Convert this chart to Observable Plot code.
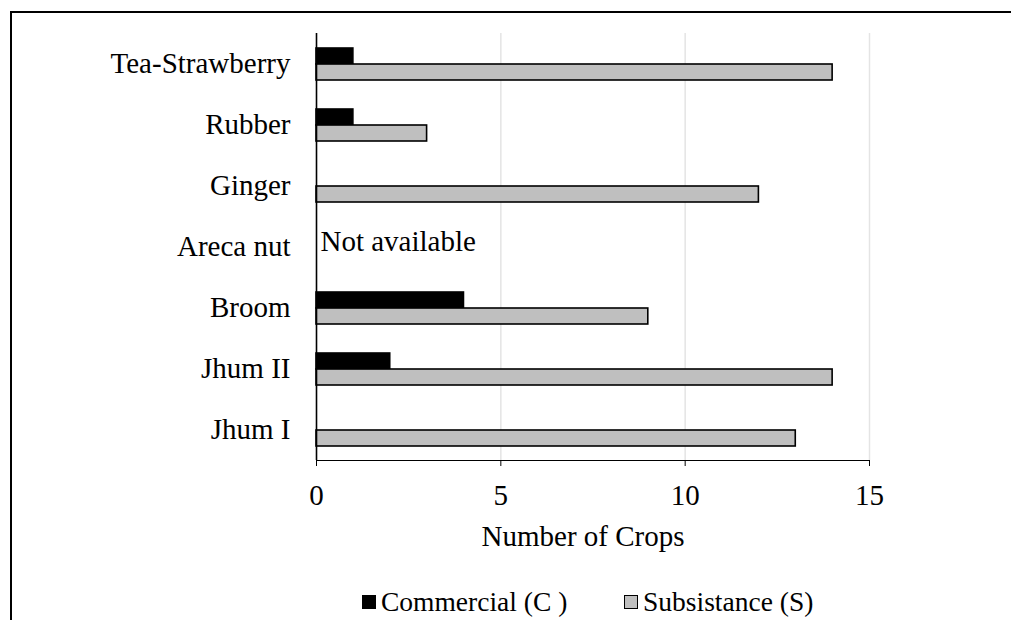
<!DOCTYPE html>
<html>
<head>
<meta charset="utf-8">
<script src="https://cdn.jsdelivr.net/npm/d3@7"></script>
<script src="https://cdn.jsdelivr.net/npm/@observablehq/plot@0.6"></script>
<style>
  html, body { margin: 0; padding: 0; background: #fff; }
  body { width: 1011px; height: 620px; position: relative; overflow: hidden; font-family: "Liberation Serif", "Times New Roman", serif; }
  #frame { position: absolute; left: 10px; top: 11px; width: 1100px; height: 700px; border-left: 2px solid #000; border-top: 2px solid #000; }
  #chart { position: absolute; left: 0; top: 0; }
  #xlabel { position: absolute; left: 583px; top: 522px; transform: translateX(-50%); font-size: 29px; line-height: 29px; white-space: nowrap; color: #000; }
  #legend { position: absolute; top: 588px; left: 0; width: 1011px; font-size: 27.5px; line-height: 27.5px; color: #000; }
  .item { position: absolute; display: flex; align-items: center; white-space: nowrap; }
  .sw { width: 14px; height: 14px; box-sizing: border-box; border: 1px solid #000; margin-right: 5px; }
</style>
</head>
<body>
<div id="frame"></div>
<div id="chart"></div>
<div id="xlabel"></div>
<div id="legend"></div>
<script>
const categories = ["Tea-Strawberry", "Rubber", "Ginger", "Areca nut", "Broom", "Jhum II", "Jhum I"];
const seriesNames = ["Commercial (C )", "Subsistance (S)"];
const commercial = [1, 1, 0, null, 4, 2, 0];
const subsistance = [14, 3, 12, null, 9, 14, 13];
const seriesColors = ["#000000", "#bfbfbf"];
const xTicks = [0, 5, 10, 15];
const gridValues = [5, 10, 15];
const xTitle = "Number of Crops";
const notes = [{category: "Areca nut", text: "Not available"}];

const rows = [];
categories.forEach((c, i) => {
  rows.push({category: c, series: seriesNames[0], value: commercial[i]});
  rows.push({category: c, series: seriesNames[1], value: subsistance[i]});
});
const bars = rows.filter(d => d.value != null && d.value > 0);

const chart = Plot.plot({
  width: 1011,
  height: 620,
  marginLeft: 316,
  marginRight: 142,
  marginTop: 30,
  marginBottom: 157,
  style: {fontFamily: "'Liberation Serif', 'Times New Roman', serif", fontSize: "29px", color: "#000", background: "transparent"},
  fy: {domain: categories, padding: 0, label: null, tickSize: 0, tickPadding: 26},
  y: {domain: seriesNames, paddingInner: 0, paddingOuter: 0.82, axis: null},
  x: {domain: [0, 15], ticks: xTicks, tickSize: 6, tickPadding: 18, line: true, label: null, tickFormat: d => String(d)},
  color: {domain: seriesNames, range: seriesColors},
  marks: [
    Plot.ruleX(gridValues, {stroke: "#e4e4e4", strokeWidth: 1.5}),
    Plot.barX(bars, {fy: "category", y: "series", x: "value", fill: "series", stroke: "#000", strokeWidth: 1.6}),
    Plot.ruleX([0], {stroke: "#000", strokeWidth: 1.6}),
    Plot.text(notes, {fy: "category", x: () => 0, text: "text", textAnchor: "start", dx: 4, dy: -5, fontSize: 29, fill: "#000"})
  ]
});
document.getElementById("chart").appendChild(chart);
document.getElementById("xlabel").textContent = xTitle;

const legend = document.getElementById("legend");
const legendX = [362, 624];
seriesNames.forEach((name, i) => {
  const item = document.createElement("div");
  item.className = "item";
  item.style.left = legendX[i] + "px";
  const sw = document.createElement("div");
  sw.className = "sw";
  sw.style.background = seriesColors[i];
  const label = document.createElement("span");
  label.textContent = name;
  item.appendChild(sw);
  item.appendChild(label);
  legend.appendChild(item);
});
</script>
</body>
</html>
